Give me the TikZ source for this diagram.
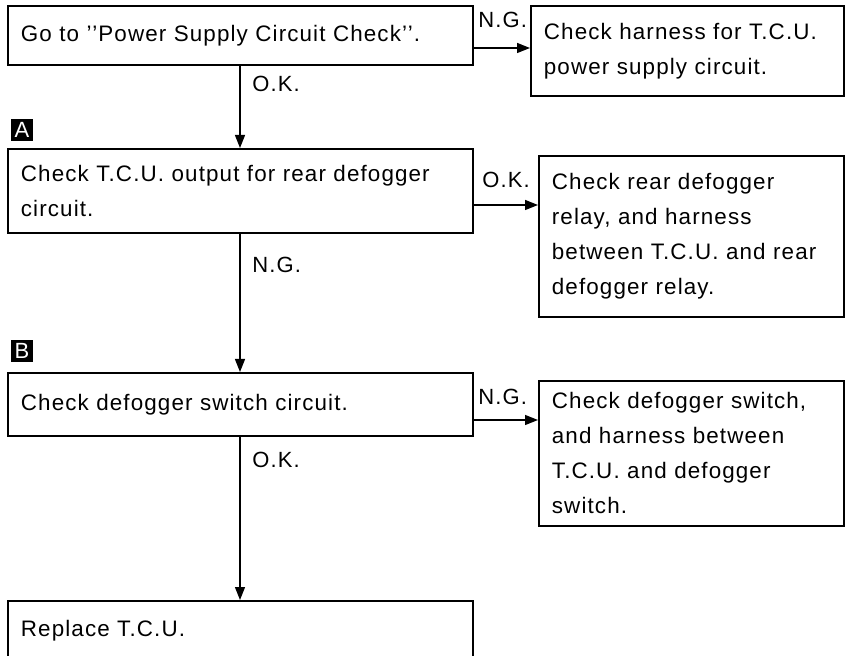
\documentclass[tikz,border=0pt]{standalone}
\usepackage{fontspec}
\setmainfont{Liberation Sans}[LetterSpace=5]
\usetikzlibrary{positioning,arrows.meta,calc}

\begin{document}
\begin{tikzpicture}[x=0.5pt, y=-0.5pt,
    checkBox/.style={rectangle, draw=black, line width=0.9pt, anchor=north west, inner xsep=6.5pt, inner ysep=0pt, align=left, font=\fontsize{11.2}{17.5}\selectfont},
    markBox/.style={rectangle, fill=black, text=white, inner sep=0pt, minimum size=11pt, font=\fontsize{11}{12}\selectfont},
    tagLabel/.style={anchor=west, inner sep=0pt, font=\fontsize{11}{12}\selectfont},
    arrowLine/.style={-{Triangle[length=6.5pt,width=5pt]}, line width=0.7pt}
]
    \clip (0,0) rectangle (850,656);
    \useasboundingbox (0,0) rectangle (850,656);

    % left column
    \node[checkBox, minimum width=232.5pt, minimum height=29.5pt, text width=219.5pt] (b1) at (7,5) {Go to \symbol{39}\symbol{39}Power Supply Circuit Check\symbol{39}\symbol{39}.};
    \node[checkBox, minimum width=232.5pt, minimum height=42pt, text width=219.5pt] (b2) at (7,148) {Check T.C.U. output for rear defogger\\circuit.};
    \node[checkBox, minimum width=232.5pt, minimum height=31.5pt, text width=219.5pt] (b3) at (7,372) {Check defogger switch circuit.};
    \node[checkBox, minimum width=232.5pt, minimum height=30pt, text width=219.5pt] (b4) at (7,600) {Replace T.C.U.};

    % right column
    \node[checkBox, minimum width=156.5pt, minimum height=45pt, text width=143.5pt] (r1) at (530,5) {Check harness for T.C.U.\\power supply circuit.};
    \node[checkBox, minimum width=152.5pt, minimum height=80.5pt, text width=139.5pt] (r2) at (538,155) {Check rear defogger\\relay, and harness\\between T.C.U. and rear\\defogger relay.};
    \node[checkBox, minimum width=152.5pt, minimum height=72.5pt, text width=139.5pt] (r3) at (538,380) {Check defogger switch,\\and harness between\\T.C.U. and defogger\\switch.};

    % section marks
    \node[markBox] (mA) at (22,130) {A};
    \node[markBox] (mB) at (22,351) {B};

    % connectors
    \coordinate (xline) at (240,0);
    \coordinate (y1) at (0,48);
    \coordinate (y2) at (0,205);
    \coordinate (y3) at (0,420);

    \draw[arrowLine] (b1.south -| xline) -- (b2.north -| xline);
    \draw[arrowLine] (b2.south -| xline) -- (b3.north -| xline);
    \draw[arrowLine] (b3.south -| xline) -- (b4.north -| xline);
    \draw[arrowLine] (b1.east |- y1) -- (r1.west |- y1);
    \draw[arrowLine] (b2.east |- y2) -- (r2.west |- y2);
    \draw[arrowLine] (b3.east |- y3) -- (r3.west |- y3);

    % branch labels
    \node[tagLabel] (ok1) at (252,84) {O.K.};
    \node[tagLabel] (ng2) at (252,265) {N.G.};
    \node[tagLabel] (ok3) at (252,460) {O.K.};
    \node[tagLabel] (ng1) at (478,20) {N.G.};
    \node[tagLabel] (ok2) at (482,180) {O.K.};
    \node[tagLabel] (ng3) at (478,397) {N.G.};
\end{tikzpicture}
\end{document}
